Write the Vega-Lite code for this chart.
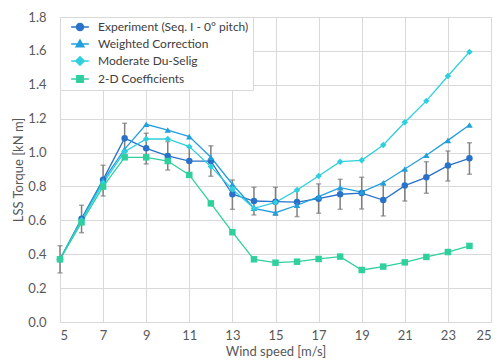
{
  "$schema": "https://vega.github.io/schema/vega-lite/v6.json",
  "width": 431,
  "height": 305,
  "autosize": "none",
  "padding": {"left": 60, "top": 17, "right": 8, "bottom": 42},
  "background": "white",
  "config": {
    "view": {"stroke": null},
    "font": "Lato",
    "axis": {
      "grid": true, "gridColor": "#d9d9d9", "gridWidth": 1,
      "domain": false, "ticks": false, "labelOverlap": false, "labelBound": false,
      "labelFont": "Lato", "labelFontSize": 13, "labelColor": "#595959",
      "titleFont": "Lato", "titleFontSize": 13, "titleColor": "#595959", "titleFontWeight": "normal"
    },
    "legend": {
      "labelFont": "Lato", "labelFontSize": 12, "labelColor": "#404040", "labelLimit": 300
    }
  },
  "data": {"values": [
    {"ws":5,"series":"Experiment (Seq. I - 0° pitch)","t":0.37,"lo":0.29,"hi":0.45},
    {"ws":6,"series":"Experiment (Seq. I - 0° pitch)","t":0.61,"lo":0.527,"hi":0.689},
    {"ws":7,"series":"Experiment (Seq. I - 0° pitch)","t":0.84,"lo":0.744,"hi":0.925},
    {"ws":8,"series":"Experiment (Seq. I - 0° pitch)","t":1.085,"lo":1.0,"hi":1.173},
    {"ws":9,"series":"Experiment (Seq. I - 0° pitch)","t":1.025,"lo":0.933,"hi":1.114},
    {"ws":10,"series":"Experiment (Seq. I - 0° pitch)","t":0.98,"lo":0.897,"hi":1.065},
    {"ws":11,"series":"Experiment (Seq. I - 0° pitch)","t":0.95,"lo":0.865,"hi":1.035},
    {"ws":12,"series":"Experiment (Seq. I - 0° pitch)","t":0.95,"lo":0.86,"hi":1.04},
    {"ws":13,"series":"Experiment (Seq. I - 0° pitch)","t":0.754,"lo":0.665,"hi":0.838},
    {"ws":14,"series":"Experiment (Seq. I - 0° pitch)","t":0.714,"lo":0.632,"hi":0.795},
    {"ws":15,"series":"Experiment (Seq. I - 0° pitch)","t":0.71,"lo":0.63,"hi":0.795},
    {"ws":16,"series":"Experiment (Seq. I - 0° pitch)","t":0.708,"lo":0.622,"hi":0.775},
    {"ws":17,"series":"Experiment (Seq. I - 0° pitch)","t":0.728,"lo":0.642,"hi":0.815},
    {"ws":18,"series":"Experiment (Seq. I - 0° pitch)","t":0.754,"lo":0.665,"hi":0.842},
    {"ws":19,"series":"Experiment (Seq. I - 0° pitch)","t":0.761,"lo":0.667,"hi":0.854},
    {"ws":20,"series":"Experiment (Seq. I - 0° pitch)","t":0.72,"lo":0.626,"hi":0.809},
    {"ws":21,"series":"Experiment (Seq. I - 0° pitch)","t":0.805,"lo":0.714,"hi":0.897},
    {"ws":22,"series":"Experiment (Seq. I - 0° pitch)","t":0.854,"lo":0.76,"hi":0.946},
    {"ws":23,"series":"Experiment (Seq. I - 0° pitch)","t":0.923,"lo":0.832,"hi":1.009},
    {"ws":24,"series":"Experiment (Seq. I - 0° pitch)","t":0.966,"lo":0.872,"hi":1.058},
    {"ws":5,"series":"Weighted Correction","t":0.37},
    {"ws":6,"series":"Weighted Correction","t":0.605},
    {"ws":7,"series":"Weighted Correction","t":0.835},
    {"ws":8,"series":"Weighted Correction","t":1.02},
    {"ws":9,"series":"Weighted Correction","t":1.167},
    {"ws":10,"series":"Weighted Correction","t":1.133},
    {"ws":11,"series":"Weighted Correction","t":1.094},
    {"ws":12,"series":"Weighted Correction","t":0.972},
    {"ws":13,"series":"Weighted Correction","t":0.813},
    {"ws":14,"series":"Weighted Correction","t":0.671},
    {"ws":15,"series":"Weighted Correction","t":0.645},
    {"ws":16,"series":"Weighted Correction","t":0.689},
    {"ws":17,"series":"Weighted Correction","t":0.74},
    {"ws":18,"series":"Weighted Correction","t":0.793},
    {"ws":19,"series":"Weighted Correction","t":0.767},
    {"ws":20,"series":"Weighted Correction","t":0.822},
    {"ws":21,"series":"Weighted Correction","t":0.903},
    {"ws":22,"series":"Weighted Correction","t":0.984},
    {"ws":23,"series":"Weighted Correction","t":1.072},
    {"ws":24,"series":"Weighted Correction","t":1.163},
    {"ws":5,"series":"Moderate Du-Selig","t":0.37},
    {"ws":6,"series":"Moderate Du-Selig","t":0.6},
    {"ws":7,"series":"Moderate Du-Selig","t":0.82},
    {"ws":8,"series":"Moderate Du-Selig","t":1.005},
    {"ws":9,"series":"Moderate Du-Selig","t":1.08},
    {"ws":10,"series":"Moderate Du-Selig","t":1.08},
    {"ws":11,"series":"Moderate Du-Selig","t":1.035},
    {"ws":12,"series":"Moderate Du-Selig","t":0.917},
    {"ws":13,"series":"Moderate Du-Selig","t":0.783},
    {"ws":14,"series":"Moderate Du-Selig","t":0.671},
    {"ws":15,"series":"Moderate Du-Selig","t":0.706},
    {"ws":16,"series":"Moderate Du-Selig","t":0.779},
    {"ws":17,"series":"Moderate Du-Selig","t":0.862},
    {"ws":18,"series":"Moderate Du-Selig","t":0.946},
    {"ws":19,"series":"Moderate Du-Selig","t":0.954},
    {"ws":20,"series":"Moderate Du-Selig","t":1.045},
    {"ws":21,"series":"Moderate Du-Selig","t":1.179},
    {"ws":22,"series":"Moderate Du-Selig","t":1.305},
    {"ws":23,"series":"Moderate Du-Selig","t":1.452},
    {"ws":24,"series":"Moderate Du-Selig","t":1.594},
    {"ws":5,"series":"2-D Coefficients","t":0.37},
    {"ws":6,"series":"2-D Coefficients","t":0.588},
    {"ws":7,"series":"2-D Coefficients","t":0.799},
    {"ws":8,"series":"2-D Coefficients","t":0.972},
    {"ws":9,"series":"2-D Coefficients","t":0.972},
    {"ws":10,"series":"2-D Coefficients","t":0.95},
    {"ws":11,"series":"2-D Coefficients","t":0.868},
    {"ws":12,"series":"2-D Coefficients","t":0.7},
    {"ws":13,"series":"2-D Coefficients","t":0.53},
    {"ws":14,"series":"2-D Coefficients","t":0.37},
    {"ws":15,"series":"2-D Coefficients","t":0.35},
    {"ws":16,"series":"2-D Coefficients","t":0.356},
    {"ws":17,"series":"2-D Coefficients","t":0.372},
    {"ws":18,"series":"2-D Coefficients","t":0.386},
    {"ws":19,"series":"2-D Coefficients","t":0.307},
    {"ws":20,"series":"2-D Coefficients","t":0.327},
    {"ws":21,"series":"2-D Coefficients","t":0.352},
    {"ws":22,"series":"2-D Coefficients","t":0.384},
    {"ws":23,"series":"2-D Coefficients","t":0.413},
    {"ws":24,"series":"2-D Coefficients","t":0.449}
  ]},
  "resolve": {
    "scale": {"shape": "independent", "fill": "independent", "stroke": "independent"},
    "legend": {"shape": "independent", "fill": "independent", "stroke": "independent", "color": "independent"}
  },
  "layer": [
    {
      "transform": [{"filter": "isValid(datum.lo)"}],
      "mark": {"type": "errorbar", "color": "#7f7f7f", "thickness": 1.5, "ticks": {"size": 5, "thickness": 1.5}},
      "encoding": {
        "x": {"field": "ws", "type": "quantitative", "scale": {"domain": [5, 25], "nice": false, "zero": false},
              "axis": {"values": [5,7,9,11,13,15,17,19,21,23,25], "labelPadding": 7, "title": "Wind speed [m/s]", "titleY": 23, "titleBaseline": "top"}},
        "y": {"field": "lo", "type": "quantitative", "scale": {"domain": [0, 1.8], "nice": false},
              "axis": {"values": [0,0.2,0.4,0.6,0.8,1.0,1.2,1.4,1.6,1.8], "format": ".1f", "labelPadding": 14, "title": "LSS Torque [kN m]", "titleX": -42, "titleY": 152.5, "titleAngle": -90, "titleBaseline": "middle", "titleAlign": "center"}},
        "y2": {"field": "hi"}
      }
    },
    {
      "mark": {"type": "line", "strokeWidth": 1.3},
      "encoding": {
        "x": {"field": "ws", "type": "quantitative", "scale": {"domain": [5, 25], "nice": false, "zero": false},
              "axis": {"values": [5,7,9,11,13,15,17,19,21,23,25], "labelPadding": 7, "title": "Wind speed [m/s]", "titleY": 23, "titleBaseline": "top"}},
        "y": {"field": "t", "type": "quantitative", "scale": {"domain": [0, 1.8], "nice": false},
              "axis": {"values": [0,0.2,0.4,0.6,0.8,1.0,1.2,1.4,1.6,1.8], "format": ".1f", "labelPadding": 14, "title": "LSS Torque [kN m]", "titleX": -42, "titleY": 152.5, "titleAngle": -90, "titleBaseline": "middle", "titleAlign": "center"}},
        "color": {"field": "series", "type": "nominal", "legend": null,
                  "scale": {"domain": ["Experiment (Seq. I - 0° pitch)", "Weighted Correction", "Moderate Du-Selig", "2-D Coefficients"],
                            "range": ["#2a72c9", "#23a0dc", "#2fd0dd", "#2fd09e"]}}
      }
    },
    {
      "mark": {"type": "point", "filled": true, "size": 42, "opacity": 1},
      "encoding": {
        "x": {"field": "ws", "type": "quantitative", "scale": {"domain": [5, 25], "nice": false, "zero": false},
              "axis": {"values": [5,7,9,11,13,15,17,19,21,23,25], "labelPadding": 7, "title": "Wind speed [m/s]", "titleY": 23, "titleBaseline": "top"}},
        "y": {"field": "t", "type": "quantitative", "scale": {"domain": [0, 1.8], "nice": false},
              "axis": {"values": [0,0.2,0.4,0.6,0.8,1.0,1.2,1.4,1.6,1.8], "format": ".1f", "labelPadding": 14, "title": "LSS Torque [kN m]", "titleX": -42, "titleY": 152.5, "titleAngle": -90, "titleBaseline": "middle", "titleAlign": "center"}},
        "color": {"field": "series", "type": "nominal", "legend": null},
        "shape": {"field": "series", "type": "nominal", "legend": null,
                  "scale": {"domain": ["Experiment (Seq. I - 0° pitch)", "Weighted Correction", "Moderate Du-Selig", "2-D Coefficients"],
                            "range": ["circle", "triangle-up", "diamond", "square"]}}
      }
    },
    {
      "transform": [{"filter": "datum.ws < 0"}],
      "mark": {"type": "point", "filled": true, "opacity": 1},
      "encoding": {
        "x": {"field": "ws", "type": "quantitative", "scale": {"domain": [5, 25], "nice": false, "zero": false},
              "axis": {"values": [5,7,9,11,13,15,17,19,21,23,25], "labelPadding": 7, "title": "Wind speed [m/s]", "titleY": 23, "titleBaseline": "top"}},
        "y": {"field": "t", "type": "quantitative", "scale": {"domain": [0, 1.8], "nice": false},
              "axis": {"values": [0,0.2,0.4,0.6,0.8,1.0,1.2,1.4,1.6,1.8], "format": ".1f", "labelPadding": 14, "title": "LSS Torque [kN m]", "titleX": -42, "titleY": 152.5, "titleAngle": -90, "titleBaseline": "middle", "titleAlign": "center"}},
        "shape": {"field": "series", "type": "nominal",
                  "scale": {"domain": ["Experiment (Seq. I - 0° pitch)", "Weighted Correction", "Moderate Du-Selig", "2-D Coefficients"],
                            "range": ["M-2.5,0H2.5M-1,0A1,1,0,1,1,1,0A1,1,0,1,1,-1,0Z", "M-2.5,0H2.5M0,-1.1L1.1,0.8H-1.1Z", "M-2.5,0H2.5M0,-1.2L1.2,0L0,1.2L-1.2,0Z", "M-2.5,0H2.5M-0.9,-0.9H0.9V0.9H-0.9Z"]},
                  "legend": {"orient": "none", "legendX": 0, "legendY": 0, "title": null, "fillColor": "white", "strokeColor": "#d9d9d9",
                             "padding": 4, "rowPadding": 3, "symbolSize": 50, "symbolStrokeWidth": 1.5, "symbolOffset": 10, "labelOffset": 12}},
        "fill": {"field": "series", "type": "nominal",
                 "scale": {"domain": ["Experiment (Seq. I - 0° pitch)", "Weighted Correction", "Moderate Du-Selig", "2-D Coefficients"],
                           "range": ["#2a72c9", "#23a0dc", "#2fd0dd", "#2fd09e"]},
                 "legend": {"orient": "none", "legendX": 0, "legendY": 0, "title": null, "fillColor": "white", "strokeColor": "#d9d9d9",
                            "padding": 4, "rowPadding": 3, "symbolSize": 50, "symbolStrokeWidth": 1.5, "symbolOffset": 10, "labelOffset": 12}},
        "stroke": {"field": "series", "type": "nominal",
                   "scale": {"domain": ["Experiment (Seq. I - 0° pitch)", "Weighted Correction", "Moderate Du-Selig", "2-D Coefficients"],
                             "range": ["#2a72c9", "#23a0dc", "#2fd0dd", "#2fd09e"]},
                   "legend": {"orient": "none", "legendX": 0, "legendY": 0, "title": null, "fillColor": "white", "strokeColor": "#d9d9d9",
                              "padding": 4, "rowPadding": 3, "symbolSize": 50, "symbolStrokeWidth": 1.5, "symbolOffset": 10, "labelOffset": 12}}
      }
    }
  ]
}
